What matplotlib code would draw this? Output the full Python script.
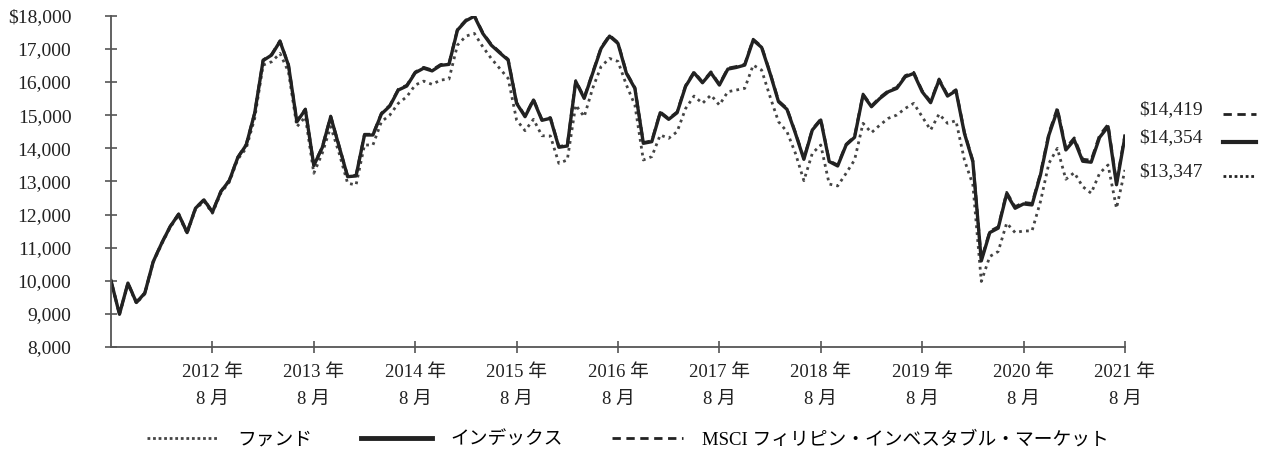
import numpy as np
import matplotlib.pyplot as plt
from matplotlib.lines import Line2D
from matplotlib.ticker import FuncFormatter

plt.rcParams['font.family'] = ['Liberation Serif', 'Noto Sans CJK JP']

# monthly values, Aug 2011 .. Aug 2021
index_vals = [10000, 8990, 9930, 9344, 9628, 10581, 11135, 11636, 12010, 11455,
              12190, 12442, 12071, 12692, 13024, 13717, 14100, 15056, 16650, 16815,
              17230, 16510, 14800, 15170, 13480, 14020, 14954, 14050, 13144, 13165,
              14402, 14402, 15035, 15277, 15760, 15880, 16281, 16420, 16338, 16504,
              16535, 17569, 17850, 17990, 17469, 17116, 16884, 16664, 15358, 14955,
              15457, 14845, 14906, 14031, 14070, 16019, 15509, 16262, 17017, 17388,
              17167, 16262, 15810, 14151, 14200, 15075, 14875, 15075, 15870, 16281,
              15980, 16281, 15910, 16392, 16442, 16513, 17267, 17047, 16262, 15407,
              15177, 14453, 13668, 14553, 14855, 13600, 13467, 14100, 14332, 15608,
              15256, 15509, 15709, 15810, 16161, 16262, 15709, 15378, 16061, 15578,
              15739, 14453, 13597, 10600, 11455, 11590, 12624, 12190, 12321, 12290,
              13195, 14402, 15150, 13950, 14251, 13610, 13580, 14330, 14653, 12900,
              14354]

msci_vals = [10000, 8995, 9935, 9350, 9635, 10590, 11145, 11645, 12020, 11465,
             12200, 12455, 12085, 12705, 13040, 13735, 14120, 15075, 16670, 16835,
             17250, 16530, 14820, 15190, 13500, 14040, 14975, 14070, 13165, 13185,
             14425, 14425, 15060, 15300, 15785, 15905, 16305, 16445, 16365, 16530,
             16560, 17595, 17875, 18015, 17495, 17140, 16910, 16690, 15385, 14980,
             15485, 14870, 14930, 14055, 14095, 16045, 15535, 16290, 17045, 17415,
             17195, 16290, 15835, 14175, 14225, 15100, 14900, 15100, 15895, 16310,
             16005, 16310, 15935, 16420, 16470, 16540, 17295, 17075, 16290, 15435,
             15205, 14480, 13695, 14580, 14885, 13625, 13495, 14125, 14360, 15640,
             15285, 15540, 15740, 15840, 16195, 16295, 15740, 15410, 16095, 15610,
             15770, 14485, 13630, 10640, 11495, 11630, 12670, 12235, 12365, 12335,
             13245, 14460, 15215, 14010, 14315, 13670, 13640, 14395, 14720, 12960,
             14419]

fund_vals = [10000, 8990, 9900, 9320, 9600, 10560, 11110, 11610, 11980, 11430,
             12160, 12400, 12040, 12650, 12980, 13670, 14000, 14900, 16513, 16613,
             16866, 16311, 14653, 14950, 13247, 13850, 14653, 13850, 12945, 12894,
             14100, 14100, 14803, 15005, 15358, 15557, 15910, 16030, 15930, 16061,
             16091, 17116, 17387, 17469, 17065, 16714, 16412, 16111, 14855, 14533,
             14875, 14380, 14372, 13548, 13648, 15307, 14955, 15810, 16472, 16714,
             16624, 15910, 15307, 13648, 13749, 14402, 14302, 14503, 15200, 15578,
             15358, 15608, 15307, 15709, 15760, 15810, 16513, 16362, 15557, 14803,
             14503, 13850, 13024, 13850, 14100, 12920, 12864, 13247, 13648, 14755,
             14473, 14704, 14906, 15005, 15206, 15358, 14955, 14553, 15035, 14755,
             14834, 13648, 12900, 9980, 10733, 10884, 11741, 11455, 11505, 11505,
             12390, 13548, 14000, 13066, 13265, 12843, 12644, 13247, 13497, 12190,
             13347]

years = [2012, 2013, 2014, 2015, 2016, 2017, 2018, 2019, 2020, 2021]
end_labels = ['$14,419', '$14,354', '$13,347']

months = np.arange(len(index_vals))

fig = plt.figure(figsize=(12.63, 4.53), dpi=100)
ax = fig.add_axes([0.0879, 0.234, 0.8028, 0.731])

ax.plot(months, msci_vals, color='#222222', lw=2.0, ls=(0, (3, 2)))
ax.plot(months, fund_vals, color='#444444', lw=2.0, ls=(0, (1, 1.5)))
ax.plot(months, index_vals, color='#222222', lw=2.4)

ax.set_xlim(0, 120)
ax.set_ylim(8000, 18000)
ax.spines['top'].set_visible(False)
ax.spines['right'].set_visible(False)
for s in ['left', 'bottom']:
    ax.spines[s].set_color('#555555')
    ax.spines[s].set_linewidth(1.3)

ax.set_yticks(np.arange(8000, 18001, 1000))
ax.yaxis.set_major_formatter(FuncFormatter(
    lambda v, p: ('$' if v == 18000 else '') + f'{int(v):,}'))
ax.set_xticks([12 * (i + 1) for i in range(len(years))])
ax.set_xticklabels([f'{y} 年\n8 月' for y in years], linespacing=1.75)
ax.tick_params(axis='y', direction='inout', length=9, width=1.2, color='#555555',
               pad=24, labelsize=14, labelcolor='#222222')
ax.tick_params(axis='x', direction='inout', length=9, width=1.2, color='#555555',
               pad=8, labelsize=13.5, labelcolor='#222222')

# end-value labels at right
label_y = [15160, 14310, 13290]
styles = [dict(ls=(0, (3, 2)), lw=2.0), dict(ls='-', lw=3.0), dict(ls=(0, (1, 1)), lw=2.0)]
for txt, yv, st in zip(end_labels, label_y, styles):
    ax.text(129.2, yv, txt, ha='right', va='center', fontsize=14, color='#222222',
            clip_on=False)
    ax.add_line(Line2D([131.6, 135.5], [yv - 120, yv - 120], color='#222222',
                       clip_on=False, **st))

handles = [Line2D([], [], color='#444444', lw=2.0, ls=(0, (1, 1))),
           Line2D([], [], color='#222222', lw=3.5),
           Line2D([], [], color='#222222', lw=2.0, ls=(0, (3, 2)))]
fig.legend(handles, ['ファンド', 'インデックス', 'MSCI フィリピン・インベスタブル・マーケット'],
           loc='center', bbox_to_anchor=(0.497, 0.029), ncol=3, frameon=False,
           fontsize=13.5, handlelength=3.8, handletextpad=1.0, columnspacing=2.6)

fig.savefig('out.png', dpi=100)
